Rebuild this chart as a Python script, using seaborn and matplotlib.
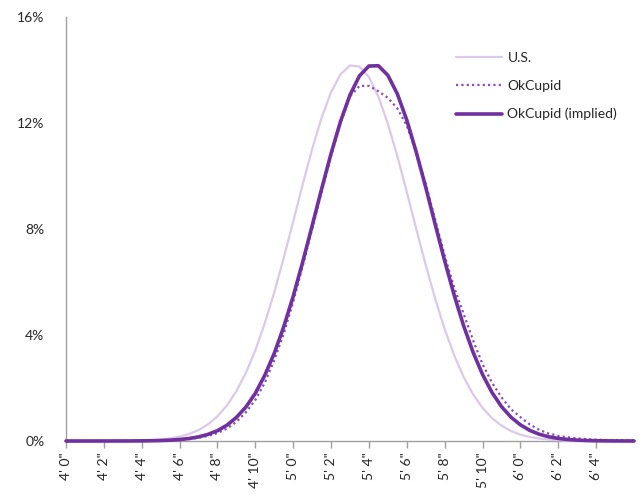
import seaborn as sns
import matplotlib.pyplot as plt
import pandas as pd

# heights in inches, 4'0" .. 6'6", every half inch
heights = [48 + i * 0.5 for i in range(61)]

us = [0.0001, 0.0002, 0.0004, 0.0007, 0.0015, 0.003, 0.0056, 0.0105,
      0.019, 0.034, 0.059, 0.100, 0.165, 0.264, 0.41, 0.626,
      0.93, 1.34, 1.88, 2.57, 3.42, 4.44, 5.61, 6.91,
      8.28, 9.68, 11.01, 12.20, 13.16, 13.84, 14.17, 14.13,
      13.73, 12.99, 11.97, 10.75, 9.40, 8.00, 6.64, 5.37,
      4.22, 3.24, 2.42, 1.76, 1.25, 0.86, 0.58, 0.378,
      0.24, 0.150, 0.091, 0.053, 0.031, 0.017, 0.009, 0.005,
      0.003, 0.0013, 0.0006, 0.0003, 0.0001]

okcupid = [0.0, 0.0, 0.0, 0.0, 0.0, 0.0005, 0.001, 0.002,
           0.004, 0.007, 0.012, 0.022, 0.04, 0.07, 0.12, 0.19,
           0.30, 0.47, 0.72, 1.08, 1.55, 2.2, 3.05, 4.05,
           5.25, 6.6, 8.0, 9.4, 10.75, 12.0, 13.0, 13.4,
           13.4, 13.2, 12.95, 12.55, 11.9, 10.9, 9.7, 8.35,
           7.0, 5.8, 4.8, 3.8, 2.9, 2.2, 1.65, 1.2,
           0.9, 0.62, 0.42, 0.28, 0.19, 0.14, 0.1, 0.07,
           0.05, 0.04, 0.03, 0.025, 0.02]

implied = [0.0, 0.0, 0.0001, 0.0001, 0.0003, 0.0007, 0.0014, 0.0027,
           0.005, 0.0098, 0.018, 0.032, 0.056, 0.094, 0.156, 0.250,
           0.39, 0.597, 0.89, 1.28, 1.80, 2.48, 3.31, 4.31,
           5.46, 6.75, 8.12, 9.51, 10.85, 12.06, 13.06, 13.78,
           14.15, 14.16, 13.80, 13.10, 12.11, 10.90, 9.57, 8.17,
           6.80, 5.51, 4.35, 3.35, 2.51, 1.83, 1.30, 0.90,
           0.61, 0.398, 0.255, 0.159, 0.096, 0.057, 0.033, 0.018,
           0.010, 0.005, 0.003, 0.0014, 0.0007]

tick_heights = list(range(48, 78, 2))
tick_labels = [f"{h // 12}' {h % 12}\"" for h in tick_heights]
y_ticks = [0, 4, 8, 12, 16]
y_labels = ["0%", "4%", "8%", "12%", "16%"]

df = pd.DataFrame({"height": heights, "U.S.": us,
                   "OkCupid": okcupid, "OkCupid (implied)": implied})

sns.set_style("white")
plt.rcParams["font.family"] = ["Lato", "DejaVu Sans"]

fig = plt.figure(figsize=(6.44, 4.95), dpi=100)
ax = fig.add_axes([66 / 644, 54 / 495, 568 / 644, 424 / 495])

sns.lineplot(data=df, x="height", y="U.S.", ax=ax, color="#dcc9ea",
             linewidth=1.6, label="U.S.", zorder=3, clip_on=False)
sns.lineplot(data=df, x="height", y="OkCupid", ax=ax, color="#8a4cc0",
             linewidth=1.6, linestyle=(0, (1, 1.4)), label="OkCupid",
             zorder=4, clip_on=False)
sns.lineplot(data=df, x="height", y="OkCupid (implied)", ax=ax,
             color="#7030a0", linewidth=2.6, label="OkCupid (implied)",
             zorder=5, clip_on=False)

ax.set_xlim(48, 78)
ax.set_ylim(0, 16)
ax.set_xticks(tick_heights)
ax.set_xticklabels(tick_labels, rotation=90, fontsize=10, color="#262626")
ax.set_yticks(y_ticks)
ax.set_yticklabels(y_labels, fontsize=10, color="#262626")
ax.set_xlabel("")
ax.set_ylabel("")

for side in ["top", "right"]:
    ax.spines[side].set_visible(False)
for side in ["left", "bottom"]:
    ax.spines[side].set_color("#a0a0a0")
    ax.spines[side].set_linewidth(1.0)

ax.tick_params(axis="x", which="major", bottom=True, length=5, width=1,
               color="#a0a0a0", pad=3)
ax.tick_params(axis="y", left=False, pad=12)

leg = ax.legend(loc="upper left", bbox_to_anchor=(456 / 644, 1 - 52 / 495),
                bbox_transform=fig.transFigure, frameon=False, fontsize=10,
                handlelength=3.3, handletextpad=0.4, labelspacing=1.15,
                borderpad=0, borderaxespad=0)
for t in leg.get_texts():
    t.set_color("#262626")

fig.savefig("out.png", dpi=100)
